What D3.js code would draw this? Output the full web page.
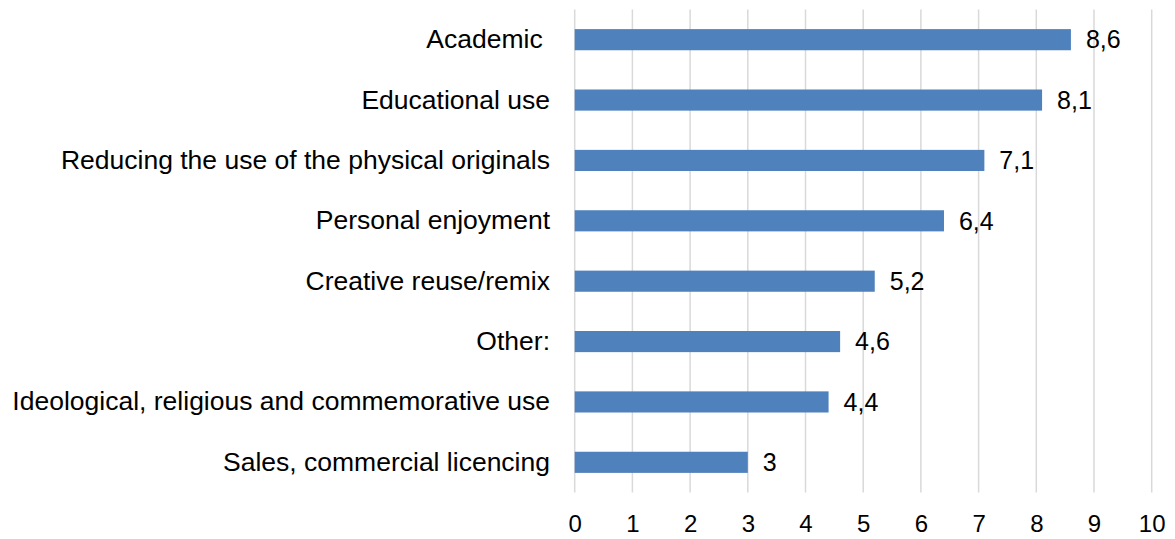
<!DOCTYPE html>
<html><head><meta charset="utf-8">
<script src="https://cdn.jsdelivr.net/npm/d3@7"></script>
<style>body{margin:0;background:#fff}svg{display:block}</style>
</head><body>
<svg id="c" width="1175" height="539"></svg>
<script>
const categories = ["Academic ", "Educational use", "Reducing the use of the physical originals", "Personal enjoyment", "Creative reuse/remix", "Other:", "Ideological, religious and commemorative use", "Sales, commercial licencing"];
const values = [8.6, 8.1, 7.1, 6.4, 5.2, 4.6, 4.4, 3];
const valueLabels = ["8,6", "8,1", "7,1", "6,4", "5,2", "4,6", "4,4", "3"];
const xTicks = [0,1,2,3,4,5,6,7,8,9,10];

const svg = d3.select("#c");
const font = "'Liberation Sans', Arial, sans-serif";
const x = d3.scaleLinear().domain([0,10]).range([574.7, 1151.7]);
const y = d3.scaleBand().domain(categories).range([9.5, 492.5]).paddingInner(0.65).paddingOuter(0.325);

svg.append("g").selectAll("line").data(xTicks).join("line")
  .attr("x1", d=>x(d)).attr("x2", d=>x(d)).attr("y1", 9.5).attr("y2", 492.5)
  .attr("stroke", "#d9d9d9").attr("stroke-width", 1.5);

svg.append("g").selectAll("rect").data(values).join("rect")
  .attr("x", x(0)).attr("y", (d,i)=>y(categories[i]))
  .attr("width", d=>x(d)-x(0)).attr("height", y.bandwidth())
  .attr("fill", "#4f81bd");

svg.append("g").selectAll("text").data(values).join("text")
  .attr("x", d=>x(d)+15).attr("y", (d,i)=>y(categories[i])+y.bandwidth()/2)
  .attr("dy", "0.35em").attr("font-family", font).attr("font-size", 25).attr("fill", "#000")
  .text((d,i)=>valueLabels[i]);

const ya = d3.axisLeft(y).tickSize(0).tickPadding(0);
svg.append("g").attr("transform", "translate(550,0)").call(ya)
  .call(g=>g.select(".domain").remove())
  .call(g=>g.selectAll("text").attr("font-family", font).attr("font-size", 26.5).attr("fill","#000").style("white-space","pre"));

const xa = d3.axisBottom(x).tickValues(xTicks).tickSize(0).tickPadding(0).tickFormat(d3.format("d"));
svg.append("g").attr("transform", "translate(0,532)").call(xa)
  .call(g=>g.select(".domain").remove())
  .call(g=>g.selectAll("text").attr("font-family", font).attr("font-size", 24).attr("fill","#000").attr("dy","0"));
</script>
</body></html>
